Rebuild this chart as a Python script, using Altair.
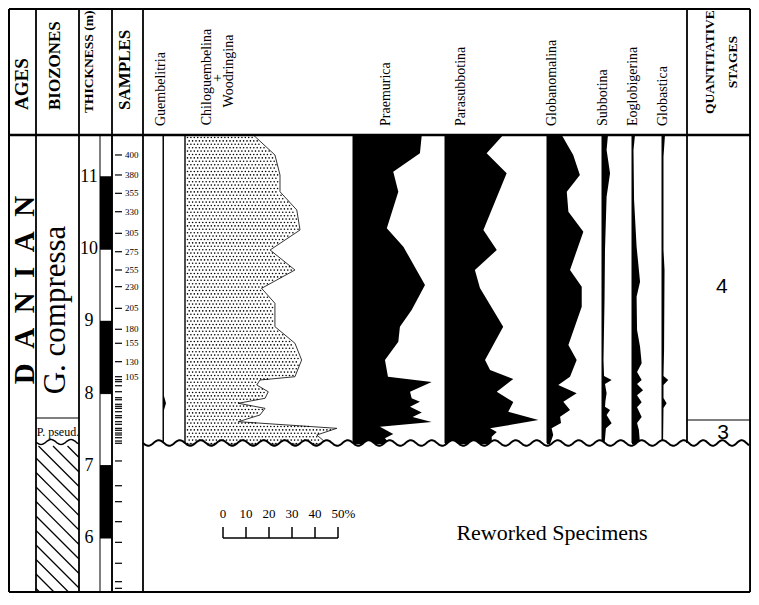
import numpy as np
import pandas as pd
import altair as alt

# ------------------------------------------------------------------
# Data (depths in metres, abundances in %)
# ------------------------------------------------------------------
thickness_ticks = [11, 10, 9, 8, 7, 6]

lith_top = [11.58, 11, 10, 9, 8, 7, 6]
lith_bot = [11, 10, 9, 8, 7, 6, 5.10]
lith_fill = ["white", "black", "white", "black", "white", "black", "white"]

sample_labels = ["400", "380", "355", "330", "305", "275", "255", "230",
                 "205", "180", "155", "130", "105"]
sample_label_depth = [11.305, 11.028, 10.774, 10.519, 10.220, 9.965, 9.712,
                      9.481, 9.181, 8.891, 8.697, 8.442, 8.234]
sample_extra_depth = [8.193, 8.165, 8.109, 8.026, 7.943, 7.915, 7.852, 7.824,
                      7.796, 7.749, 7.694, 7.666, 7.611, 7.575, 7.519, 7.492,
                      7.454, 7.427, 7.389, 7.343, 7.312, 7.067, 6.724, 6.503,
                      6.226, 5.940, 5.650, 5.395, 5.303, 5.211, 5.130]

guemb_depth = [11.58, 7.97, 7.866, 7.77, 7.30]
guemb_pct = [0.4, 0.4, 1.3, 0.4, 0.4]

chilo_depth = [11.582, 11.305, 11.028, 10.796, 10.543, 10.266, 9.989, 9.712,
               9.458, 9.251, 8.927, 8.697, 8.465, 8.234, 8.188, 8.119, 8.026,
               7.935, 7.866, 7.796, 7.704, 7.611, 7.519, 7.427, 7.300]
chilo_pct = [29.7, 39.1, 41.3, 41.3, 48.6, 50.0, 37.0, 47.8, 33.3, 39.1, 39.1,
             47.8, 50.7, 47.8, 32.6, 31.2, 36.2, 34.8, 23.2, 34.8, 32.6, 23.2,
             66.0, 57.3, 62.0]

praem_depth = [11.582, 11.328, 11.073, 10.796, 10.289, 10.035, 9.504, 9.158,
               8.927, 8.719, 8.465, 8.234, 8.160, 8.026, 7.935, 7.888, 7.819,
               7.738, 7.676, 7.607, 7.542, 7.440, 7.381, 7.300]
praem_pct = [29.9, 29.1, 17.5, 19.7, 14.7, 21.9, 31.3, 25.5, 20.4, 19.7, 13.9,
             15.2, 34.2, 24.8, 25.5, 29.1, 24.8, 29.9, 25.9, 34.2, 11.7, 17.5,
             13.9, 16.1]

paras_depth = [11.582, 11.328, 11.051, 10.266, 9.989, 9.712, 9.463, 8.927,
               8.465, 8.327, 8.202, 8.026, 7.884, 7.749, 7.634, 7.519, 7.468,
               7.403, 7.300]
paras_pct = [25.3, 18.1, 26.8, 16.7, 22.5, 13.0, 15.2, 25.3, 17.4, 19.6, 29.7,
             22.5, 29.7, 27.5, 40.6, 19.6, 22.5, 20.3, 20.4]

glban_depth = [11.582, 11.305, 11.028, 10.796, 10.519, 10.242, 9.712, 9.481,
               9.204, 8.673, 8.465, 8.234, 8.119, 8.004, 7.888, 7.773, 7.680,
               7.593, 7.519, 7.427, 7.300]
glban_pct = [6.4, 11.4, 14.3, 8.6, 9.3, 15.8, 10.0, 15.1, 15.1, 9.3, 12.9,
             10.0, 4.9, 12.9, 7.1, 10.0, 5.7, 6.1, 2.0, 2.7, 1.3]

subb_depth = [11.582, 11.374, 11.051, 10.727, 9.989, 9.296, 8.465, 8.244,
              8.188, 8.133, 8.004, 7.897, 7.818, 7.773, 7.704, 7.589, 7.519,
              7.300]
subb_pct = [2.6, 2.0, 3.5, 2.0, 1.3, 1.1, 0.65, 0.9, 4.2, 1.3, 2.0, 1.5, 1.3,
            3.5, 2.0, 4.2, 1.7, 1.1]

eoglo_depth = [11.582, 11.374, 10.681, 10.035, 9.550, 9.342, 8.881, 8.650,
               8.420, 8.299, 8.188, 8.133, 8.047, 7.977, 7.880, 7.811, 7.676,
               7.593, 7.496, 7.300]
eoglo_pct = [1.3, 0.65, 0.9, 2.0, 3.5, 2.0, 2.2, 3.5, 4.2, 2.2, 4.2, 2.2, 4.8,
             2.2, 4.2, 2.2, 4.2, 2.2, 3.0, 3.5]

globa_depth = [11.582, 11.281, 9.989, 9.712, 8.604, 8.244, 8.188, 8.119,
               7.938, 7.866, 7.801, 7.300]
globa_pct = [1.3, 0.65, 0.65, 1.1, 0.9, 0.65, 2.7, 0.65, 0.65, 2.0, 0.65, 0.45]

scale_pcts = [0, 10, 20, 30, 40, 50]
scale_texts = ["0", "10", "20", "30", "40", "50%"]

# ------------------------------------------------------------------
# Layout (horizontal positions in the reference pixel frame)
# ------------------------------------------------------------------
W, H = 743, 585
PX_PER_M = 72.2
PX_PER_PCT = 2.3
SERIF = "Liberation Serif"
SANS = "Liberation Sans"


def ym(p):
    """metre value for a vertical pixel position of the reference frame"""
    return 11 - (p - 177) / PX_PER_M


LEFT, RIGHT, TOPB, BODY, WAVE, BOTB = 9, 756, 9, 135, 443, 592
COLS = [36, 79, 112, 143]
QUANT = 687

BASE = {"guemb": 163, "chilo": 185, "praem": 353, "paras": 445,
        "glban": 547, "subb": 602, "eoglo": 632, "globa": 662}

# piecewise x scale: 1:1 up to the stages column, which is narrowed to fit
X = alt.Scale(domain=[8, QUANT, 757], range=[0, QUANT - 8, W], nice=False, zero=False)
Y = alt.Scale(domain=[ym(8 + H), ym(8)], nice=False, zero=False)


def xe(f="x"):
    return alt.X(f"{f}:Q", scale=X, axis=None, stack=None)


def ye(f="y"):
    return alt.Y(f"{f}:Q", scale=Y, axis=None, stack=None)


def rules(rows):
    df = pd.DataFrame(rows, columns=["x", "y", "x2", "y2", "w"])
    return alt.Chart(df).mark_rule(color="black", strokeCap="butt").encode(
        x=xe(), y=ye(), x2="x2:Q", y2="y2:Q",
        strokeWidth=alt.StrokeWidth("w:Q", scale=None))


def texts(rows, **kw):
    df = pd.DataFrame(rows, columns=["x", "y", "t"])
    return alt.Chart(df).mark_text(color="black", **kw).encode(
        x=xe(), y=ye(), text="t:N")


def genus(depth, pct, base, **kw):
    df = pd.DataFrame({"y": depth,
                       "x": [base + v * PX_PER_PCT for v in pct],
                       "x2": base})
    return alt.Chart(df).mark_area(orient="horizontal", **kw).encode(
        x=xe(), x2="x2:Q", y=ye())


layers = []

# lithology bar (metre blocks)
lith_df = pd.DataFrame({"y": lith_top, "y2": lith_bot, "fill": lith_fill})
lith_df["x"] = 100
lith_df["x2"] = 112
lith_df["y2"] = lith_df["y2"].clip(lower=ym(BOTB))
layers.append(alt.Chart(lith_df).mark_rect(stroke="black", strokeWidth=1).encode(
    x=xe(), x2="x2:Q", y=ye(), y2="y2:Q", fill=alt.Fill("fill:N", scale=None)))

# abundance curves
layers.append(genus(chilo_depth, chilo_pct, BASE["chilo"], fill="white",
                    stroke="black", strokeWidth=0.8))
for d, p, k in [(guemb_depth, guemb_pct, "guemb"), (praem_depth, praem_pct, "praem"),
                (paras_depth, paras_pct, "paras"), (glban_depth, glban_pct, "glban"),
                (subb_depth, subb_pct, "subb"), (eoglo_depth, eoglo_pct, "eoglo"),
                (globa_depth, globa_pct, "globa")]:
    layers.append(genus(d, p, BASE[k], color="black"))

# stipple inside the Chiloguembelina + Woodringina curve
edge_px = [BASE["chilo"] + v * PX_PER_PCT for v in chilo_pct]
dots = []
for r, yy in enumerate(np.arange(137.5, 444.0, 3.4)):
    d = ym(yy)
    edge = np.interp(-d, -np.array(chilo_depth), edge_px)
    for xx in np.arange(187.5 + (1.7 if r % 2 else 0.0), edge - 1.2, 3.4):
        dots.append((xx, d))
dots_df = pd.DataFrame(dots, columns=["x", "y"])
layers.append(alt.Chart(dots_df).mark_circle(size=2.6, color="black", opacity=1).encode(
    x=xe(), y=ye()))

# genus base lines
layers.append(rules([(BASE[k], ym(BODY), BASE[k], ym(WAVE), 1.0) for k in BASE]))

# unconformity (wavy line) with white cover below it
wx = np.arange(143.0, 755.5, 1.0)
wy = WAVE + 2.8 * np.sin(2 * np.pi * (wx - 143.0) / 21.0)
cover = pd.DataFrame({"x": wx, "y": [ym(v) for v in wy], "y2": ym(452)})
layers.append(alt.Chart(cover).mark_area(color="white").encode(
    x=xe(), y=ye(), y2="y2:Q"))

# hatch in lower biozone
hatch = []
for c in np.arange(400.0, 600.0, 14.5):
    xa, ya = 36.0, c
    xb, yb = 79.0, c + 43.0
    if ya < 446:
        xa, ya = 36.0 + (446 - c), 446.0
    if yb > BOTB:
        xb, yb = 36.0 + (BOTB - c), float(BOTB)
    if xb > xa:
        hatch.append((xa, ym(ya), xb, ym(yb), 1.2))
layers.append(rules(hatch))

# frame and column lines
frame = [
    (LEFT, ym(TOPB), RIGHT, ym(TOPB), 2.0),
    (LEFT, ym(BOTB), RIGHT, ym(BOTB), 2.0),
    (LEFT, ym(TOPB), LEFT, ym(BOTB), 2.0),
    (RIGHT, ym(TOPB), RIGHT, ym(BOTB), 2.0),
    (LEFT, ym(BODY), RIGHT, ym(BODY), 2.6),
    (QUANT, ym(TOPB), QUANT, ym(WAVE), 1.8),
    (36, ym(418), 79, ym(418), 1.2),
    (QUANT, ym(420), RIGHT, ym(420), 1.2),
]
for c in COLS:
    frame.append((c, ym(TOPB), c, ym(BOTB), 1.8))
for d in sample_label_depth + sample_extra_depth:
    if d > ym(BOTB - 1):
        frame.append((115, d, 122, d, 1.2))
layers.append(rules(frame))

# wavy lines
wave_df = pd.DataFrame({"x": wx, "y": [ym(v) for v in wy]})
layers.append(alt.Chart(wave_df).mark_line(color="black", strokeWidth=2).encode(
    x=xe(), y=ye()))
bx = np.arange(36.0, 79.5, 1.0)
by = 442 + 2.5 * np.sin(2 * np.pi * (bx - 36.0) / 20.0)
layers.append(alt.Chart(pd.DataFrame({"x": bx, "y": [ym(v) for v in by]})).mark_line(
    color="black", strokeWidth=1.5).encode(x=xe(), y=ye()))

# percentage scale bar
SB_X, SB_Y = 223, 538
sb = [(SB_X, ym(SB_Y), SB_X + 50 * PX_PER_PCT, ym(SB_Y), 1.5)]
for v in scale_pcts:
    sb.append((SB_X + v * PX_PER_PCT, ym(SB_Y), SB_X + v * PX_PER_PCT, ym(527), 1.5))
layers.append(rules(sb))
sb_txt = [(SB_X + v * PX_PER_PCT, ym(514), t) for v, t in zip(scale_pcts[:-1], scale_texts[:-1])]
layers.append(texts(sb_txt, font=SERIF, fontSize=13, align="center", baseline="middle"))
layers.append(texts([(SB_X + 50 * PX_PER_PCT - 6.5, ym(514), scale_texts[-1])],
                    font=SERIF, fontSize=13, align="left", baseline="middle"))

# ------------------------------------------------------------------
# Text
# ------------------------------------------------------------------
layers.append(texts([(22, ym(110), "AGES")],
                    font=SERIF, fontSize=19, fontWeight="bold", angle=270,
                    align="left", baseline="middle"))
layers.append(texts([(55, ym(110), "BIOZONES"), (125, ym(110), "SAMPLES")],
                    font=SERIF, fontSize=17, fontWeight="bold", angle=270,
                    align="left", baseline="middle"))
layers.append(texts([(89, ym(113), "THICKNESS (m)")],
                    font=SERIF, fontSize=13.5, fontWeight="bold", angle=270,
                    align="left", baseline="middle"))
layers.append(texts([(712, ym(62), "QUANTITATIVE"), (737, ym(62), "STAGES")],
                    font=SERIF, fontSize=13.5, fontWeight="bold", angle=270,
                    align="center", baseline="middle"))
layers.append(texts([(161, ym(126), "Guembelitria"), (386, ym(126), "Praemurica"),
                     (461, ym(126), "Parasubbotina"), (552, ym(126), "Globanomalina"),
                     (603, ym(126), "Subbotina"), (633, ym(126), "Eoglobigerina"),
                     (663, ym(126), "Globastica")],
                    font=SERIF, fontSize=14, angle=270, align="left", baseline="middle"))
layers.append(texts([(207, ym(77), "Chiloguembelina"), (218, ym(78), "+"),
                     (229, ym(71), "Woodringina")],
                    font=SERIF, fontSize=14, angle=270, align="center", baseline="middle"))

layers.append(texts([(34, ym(290), "D\u2002A\u2002N\u2002I\u2002A\u2002N")],
                    font=SERIF, fontSize=29, fontWeight="bold", angle=270,
                    align="center", baseline="alphabetic"))
layers.append(texts([(65, ym(310), "G. compressa")],
                    font=SERIF, fontSize=31, angle=270, align="center",
                    baseline="alphabetic"))
layers.append(texts([(58, ym(432), "P. pseud.")],
                    font=SERIF, fontSize=12, align="center", baseline="middle"))

layers.append(texts([(89, m, str(m)) for m in thickness_ticks],
                    font=SERIF, fontSize=18, align="center", baseline="middle"))
layers.append(texts([(125, d, t) for d, t in zip(sample_label_depth, sample_labels)],
                    font=SERIF, fontSize=9, align="left", baseline="middle"))

layers.append(texts([(725, ym(287), "4"), (726.5, ym(433), "3")],
                    font=SANS, fontSize=21, align="center", baseline="middle"))
layers.append(texts([(552, ym(533), "Reworked Specimens")],
                    font=SERIF, fontSize=22, align="center", baseline="middle"))

chart = alt.layer(*layers).properties(
    width=W, height=H, padding=0,
    autosize=alt.AutoSizeParams(type="none"),
).configure_view(strokeWidth=0)

chart.save("out.html", embed_options={"renderer": "svg", "actions": False})
